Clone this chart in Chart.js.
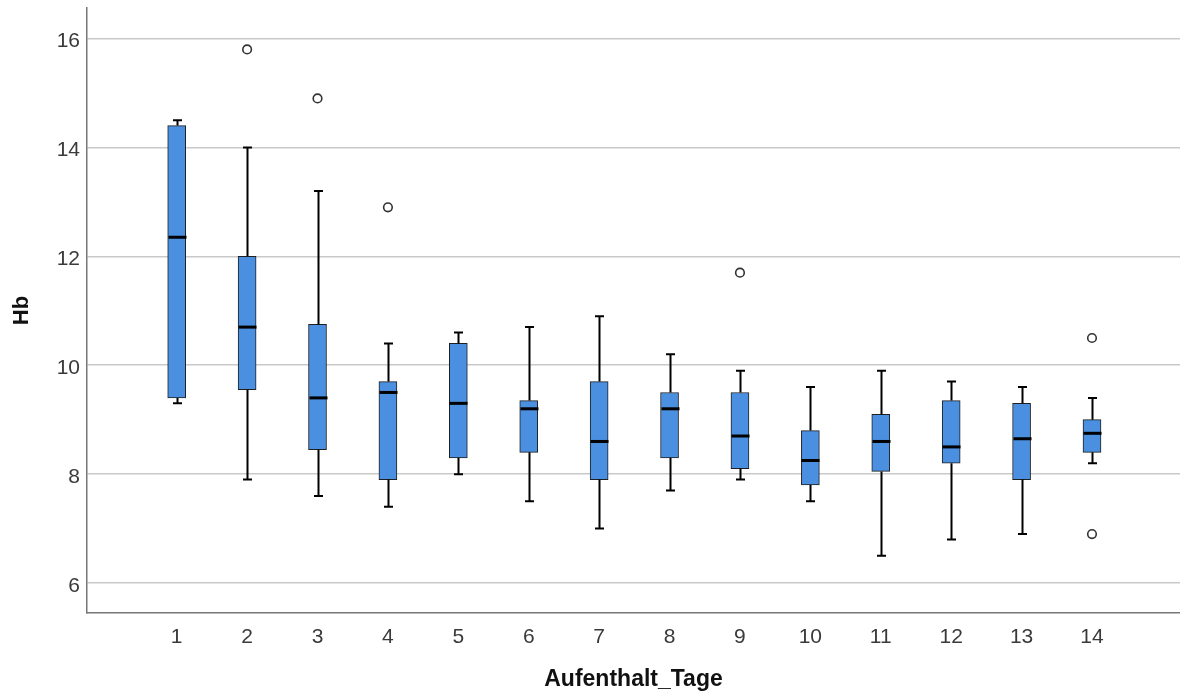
<!DOCTYPE html>
<html>
<head>
<meta charset="utf-8">
<script src="https://cdn.jsdelivr.net/npm/chart.js@4.4.1/dist/chart.umd.min.js"></script>
<style>
  html, body { margin: 0; padding: 0; background: #ffffff; }
  canvas { display: block; }
</style>
</head>
<body>
<canvas id="chart" width="1180" height="697"></canvas>
<script>
// Hb by length of stay (days): box plot summary per day
const days        = [1, 2, 3, 4, 5, 6, 7, 8, 9, 10, 11, 12, 13, 14];
const whiskerLow  = [9.3, 7.9, 7.6, 7.4, 8.0, 7.5, 7.0, 7.7, 7.9, 7.5, 6.5, 6.8, 6.9, 8.2];
const q1          = [9.4, 9.55, 8.45, 7.9, 8.3, 8.4, 7.9, 8.3, 8.1, 7.8, 8.05, 8.2, 7.9, 8.4];
const medians     = [12.35, 10.7, 9.4, 9.5, 9.3, 9.2, 8.6, 9.2, 8.7, 8.25, 8.6, 8.5, 8.65, 8.75];
const q3          = [14.4, 12.0, 10.75, 9.7, 10.4, 9.35, 9.7, 9.5, 9.5, 8.8, 9.1, 9.35, 9.3, 9.0];
const whiskerHigh = [14.5, 14.0, 13.2, 10.4, 10.6, 10.7, 10.9, 10.2, 9.9, 9.6, 9.9, 9.7, 9.6, 9.4];

// outliers (circles)
const outlierDays   = [2, 3, 4, 9, 14, 14];
const outlierValues = [15.8, 14.9, 12.9, 11.7, 10.5, 6.9];

const yTicks = [6, 8, 10, 12, 14, 16];

const BOX_WIDTH = 18;
const CAP_WIDTH = 9;

// whiskers, caps and median lines drawn on top of the boxes
const boxExtras = {
  id: 'boxExtras',
  afterDatasetsDraw(chart) {
    const { ctx, scales: { x, y } } = chart;
    ctx.save();
    ctx.strokeStyle = '#000000';
    ctx.lineCap = 'butt';
    days.forEach((d, i) => {
      const px = Math.round(x.getPixelForValue(d)) + 0.5;
      const yLo = y.getPixelForValue(whiskerLow[i]);
      const yQ1 = y.getPixelForValue(q1[i]);
      const yQ3 = y.getPixelForValue(q3[i]);
      const yHi = y.getPixelForValue(whiskerHigh[i]);
      const yMed = y.getPixelForValue(medians[i]);
      ctx.lineWidth = 2;
      ctx.beginPath();
      ctx.moveTo(px, yQ1); ctx.lineTo(px, yLo);
      ctx.moveTo(px, yQ3); ctx.lineTo(px, yHi);
      ctx.moveTo(px - CAP_WIDTH / 2, yLo); ctx.lineTo(px + CAP_WIDTH / 2, yLo);
      ctx.moveTo(px - CAP_WIDTH / 2, yHi); ctx.lineTo(px + CAP_WIDTH / 2, yHi);
      ctx.stroke();
      ctx.lineWidth = 3;
      ctx.beginPath();
      ctx.moveTo(px - BOX_WIDTH / 2, yMed); ctx.lineTo(px + BOX_WIDTH / 2, yMed);
      ctx.stroke();
    });
    ctx.restore();
  }
};

const tickFont = { family: 'Liberation Sans, Arial, sans-serif', size: 21 };

new Chart(document.getElementById('chart'), {
  type: 'bar',
  data: {
    datasets: [
      {
        type: 'bar',
        data: days.map((d, i) => ({ x: d, y: [q1[i], q3[i]] })),
        backgroundColor: '#4a8fe0',
        borderColor: '#1f1f1f',
        borderWidth: 1,
        borderSkipped: false,
        barThickness: BOX_WIDTH
      },
      {
        type: 'scatter',
        data: outlierDays.map((d, i) => ({ x: d, y: outlierValues[i] })),
        pointStyle: 'circle',
        pointRadius: 4.3,
        backgroundColor: '#ffffff',
        borderColor: '#333333',
        borderWidth: 1.6
      }
    ]
  },
  options: {
    responsive: false,
    devicePixelRatio: 1,
    animation: false,
    events: [],
    layout: { autoPadding: false, padding: { top: 8, right: 0, bottom: 0, left: 0 } },
    plugins: {
      legend: { display: false },
      tooltip: { enabled: false }
    },
    scales: {
      x: {
        type: 'linear',
        position: 'bottom',
        offset: false,
        min: -0.274,
        max: 15.25,
        afterBuildTicks: s => { s.ticks = days.map(v => ({ value: v })); },
        afterFit: s => { s.height = 84; s.paddingLeft = 0; s.paddingRight = 0; },
        grid: { display: false, drawTicks: false },
        border: { display: true, color: '#777777', width: 1.5 },
        ticks: {
          font: tickFont,
          color: '#3a3a3a',
          padding: 12,
          maxRotation: 0,
          autoSkip: false,
          callback: v => String(v)
        },
        title: {
          display: true,
          text: 'Aufenthalt_Tage',
          font: { family: 'Liberation Sans, Arial, sans-serif', size: 23, weight: 'bold' },
          color: '#111111',
          padding: { top: 0, bottom: 4 }
        }
      },
      y: {
        type: 'linear',
        min: 5.45,
        max: 16.56,
        afterBuildTicks: s => { s.ticks = yTicks.map(v => ({ value: v })); },
        afterFit: s => { s.width = 87; s.paddingTop = 0; s.paddingBottom = 0; },
        grid: { color: '#c9c9c9', lineWidth: 1.5, drawTicks: false },
        border: { display: true, color: '#777777', width: 1.5 },
        ticks: {
          font: tickFont,
          color: '#3a3a3a',
          padding: 7,
          labelOffset: 3,
          callback: v => String(v)
        },
        title: {
          display: true,
          text: 'Hb',
          font: { family: 'Liberation Sans, Arial, sans-serif', size: 22, weight: 'bold' },
          color: '#111111',
          padding: { top: 9, bottom: 0 }
        }
      }
    }
  },
  plugins: [boxExtras]
});
</script>
</body>
</html>
